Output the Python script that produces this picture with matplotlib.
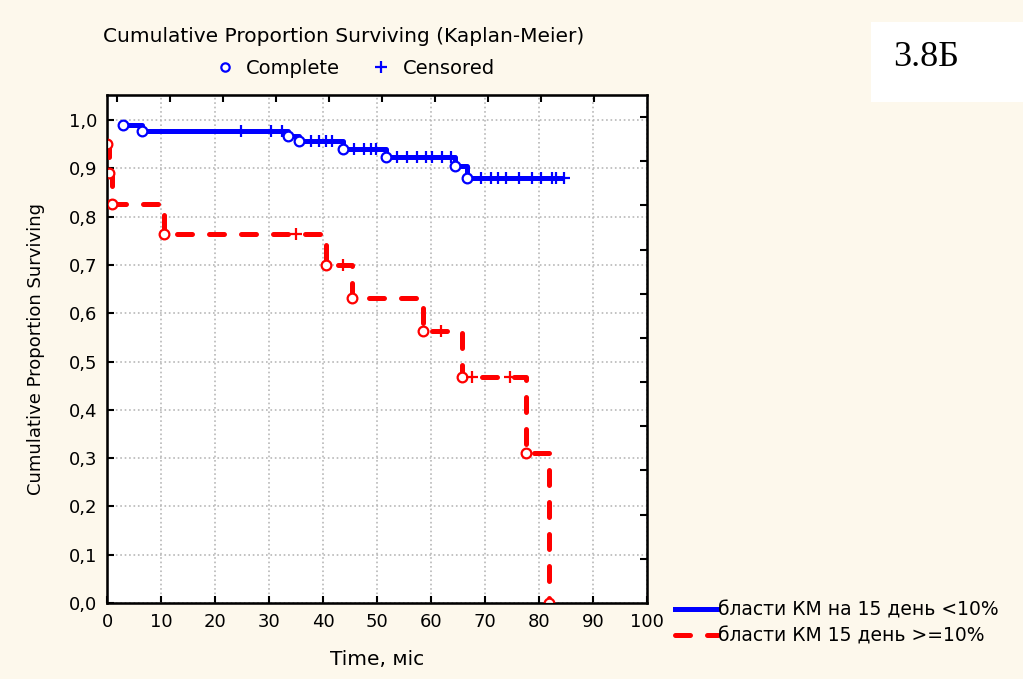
import matplotlib.pyplot as plt
from matplotlib.lines import Line2D
from matplotlib.ticker import FuncFormatter
import numpy as np

# group 1: бласти КМ на 15 день <10%  (event times, survival after event)
blue_times = [3.0, 6.5, 33.5, 35.5, 43.7, 51.6, 64.4, 66.7]
blue_surv = [0.990, 0.978, 0.968, 0.957, 0.940, 0.923, 0.905, 0.880]
blue_end = 84.6
blue_cens = [24.8, 30.4, 32.4, 37.8, 39.3, 40.6, 41.7, 45.7, 47.6, 48.9, 49.8,
             53.7, 55.6, 57.4, 59.1, 60.2, 62.0, 63.7, 69.3, 71.1, 72.4, 73.9,
             76.3, 78.7, 80.4, 82.4, 83.1, 84.6]

# group 2: бласти КМ 15 день >=10%
red_times = [0.0, 0.4, 1.0, 10.6, 40.6, 45.4, 58.5, 65.7, 77.6, 81.8]
red_surv = [0.950, 0.890, 0.826, 0.765, 0.700, 0.632, 0.563, 0.468, 0.310, 0.0]
red_cens = [35.0, 43.7, 61.8, 67.6, 74.6]

labels = ["бласти КМ на 15 день <10%", "бласти КМ 15 день >=10%"]
bg = '#fdf8ec'


def surv_at(times, surv, t):
    idx = np.searchsorted(times, t, side='right') - 1
    return surv[max(idx, 0)]


plt.rcParams['font.family'] = ['DejaVu Sans']
fig = plt.figure(figsize=(10.23, 6.79), dpi=100, facecolor=bg)
ax = fig.add_axes([0.1046, 0.1119, 0.5279, 0.7481])
ax.set_facecolor('white')

# blue curve
bx = blue_times + [blue_end]
by = blue_surv + [blue_surv[-1]]
ax.plot(bx, by, drawstyle='steps-post', color='#0000ff', lw=3.6, solid_capstyle='butt', zorder=3)
ax.plot(blue_times, blue_surv, 'o', ms=7, mfc='white', mec='#0000ff', mew=1.6, zorder=4)
ax.plot(blue_cens, [surv_at(blue_times, blue_surv, t) for t in blue_cens], '+',
        ms=9, mec='#0000ff', mew=1.6, zorder=4)

# red curve
ax.plot(red_times, red_surv, drawstyle='steps-post', color='#ff0000', lw=3.6,
        dashes=(3.0, 3.4), dash_capstyle='round', zorder=3)
ax.plot(red_times, red_surv, 'o', ms=7, mfc='white', mec='#ff0000', mew=1.6, zorder=4)
ax.plot(red_cens, [surv_at(red_times, red_surv, t) for t in red_cens], '+',
        ms=9, mec='#ff0000', mew=1.6, zorder=4)

ax.set_xlim(0, 100)
ax.set_ylim(0, 1.052)
ax.set_xticks(np.arange(0, 101, 10))
ax.set_yticks(np.arange(0, 1.01, 0.1))
ax.yaxis.set_major_formatter(FuncFormatter(lambda v, p: f"{v:.1f}".replace('.', ',')))
ax.grid(True, color='#b8b8b8', linestyle=':', lw=1.2)
ax.tick_params(direction='in', length=5, width=1.5, labelsize=13, colors='black', pad=7)
for s in ax.spines.values():
    s.set_linewidth(1.8)

ax.set_xlabel("Time, міс", fontsize=14.5, labelpad=14)
ax.set_ylabel("Cumulative Proportion Surviving", fontsize=13, labelpad=17)

# extra ticks on top and right edges
axr = ax.twinx()
axr.set_ylim(ax.get_ylim())
axr.set_yticks(np.arange(1, 12) * 0.0915)
axr.tick_params(direction='in', length=5, width=1.5, labelright=False)
axt = ax.twiny()
axt.set_xlim(ax.get_xlim())
axt.set_xticks(1.9 + 9.8 * np.arange(10))
axt.tick_params(direction='in', length=5, width=1.5, labeltop=False)

# title and marker legend
fig.text(0.336, 1 - 37 / 679, "Cumulative Proportion Surviving (Kaplan-Meier)",
         ha='center', va='center', fontsize=14.5)
mk = [Line2D([], [], ls='none', marker='o', ms=6, mfc='white', mec='#0000ff', mew=1.6),
      Line2D([], [], ls='none', marker='+', ms=9, mec='#0000ff', mew=1.6)]
fig.legend(mk, ["Complete", "Censored"], loc='center', ncol=2, frameon=False,
           bbox_to_anchor=(0.347, 1 - 68 / 679), fontsize=14, handlelength=1.0,
           handletextpad=0.6, columnspacing=1.6, borderpad=0)

# group legend
gh = [Line2D([], [], color='#0000ff', lw=3.6),
      Line2D([], [], color='#ff0000', lw=3.6, dashes=(3.0, 3.4), dash_capstyle='round')]
fig.legend(gh, labels, loc='upper left', frameon=False, fontsize=13.5,
           bbox_to_anchor=(675 / 1023, 1 - 601 / 679), handlelength=2.3,
           handletextpad=0.0, labelspacing=0.35, borderpad=0, borderaxespad=0)

# figure label box
fig.patches.append(plt.Rectangle((871 / 1023, 1 - 102 / 679), 152 / 1023, 80 / 679,
                                 transform=fig.transFigure, facecolor='white',
                                 edgecolor='none', zorder=0))
fig.text(926 / 1023, 1 - 57 / 679, "3.8Б", ha='center', va='center', fontsize=26,
         family='Liberation Serif')

fig.savefig('out.png', dpi=100, facecolor=bg)
